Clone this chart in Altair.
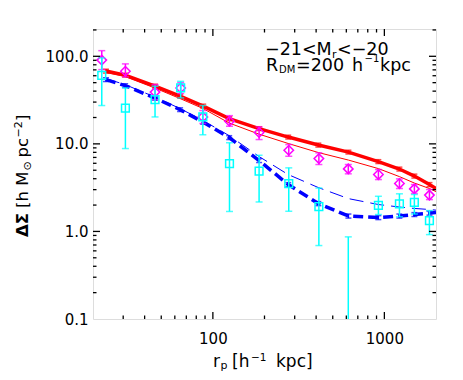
import altair as alt
import pandas as pd

# ---------------- data ----------------
# projected radius bins [h^-1 kpc]
r_bins = [22.5, 30.9, 46.0, 64.9, 87.4, 125, 186, 277, 415, 616, 923, 1224, 1496, 1831]

# magenta diamonds: Delta Sigma with lower / upper error
mag_val = [90.5, 67.4, 39.0, 43.4, 20.3, 18.1, 13.5, 8.45, 6.79, 5.18, 4.46, 3.52, 3.06, 2.60]
mag_lo = [70.5, 58.2, 32.0, 37.5, 17.1, 15.9, 11.2, 7.22, 5.81, 4.55, 3.91, 3.09, 2.71, 2.31]
mag_hi = [116, 81.9, 47.5, 50.1, 24.0, 21.0, 15.6, 9.82, 7.89, 5.81, 5.09, 3.98, 3.43, 3.01]

# cyan squares (the 10th point lies below the plotted range)
cyan_val = [60.7, 25.6, 32.0, 43.6, 20.3, 5.96, 4.87, 3.52, 1.92, 0.03, 1.99, 2.07, 2.15, 1.33]
cyan_lo = [27.4, 8.84, 20.3, 33.5, 12.7, 1.69, 2.17, 1.70, 0.69, 0.01, 1.56, 1.47, 1.58, 0.92]
cyan_hi = [95.9, 43.6, 45.5, 51.8, 27.4, 10.3, 7.41, 5.32, 3.13, 0.867, 2.52, 2.69, 2.64, 1.73]

# model curves
model_r = [23.8, 30.8, 46.0, 64.4, 87.8, 124.5, 186, 275, 412, 617, 922, 1223, 1496, 1832, 2000]
red_thick = [67.8, 61.0, 45.7, 35.1, 27.0, 19.4, 14.95, 11.96, 9.69, 8.06, 6.28, 5.16, 4.29, 3.43, 3.09]
red_thick_err = [3.4, 3.0, 2.3, 1.8, 1.4, 1.0, 0.75, 0.6, 0.5, 0.4, 0.32, 0.26, 0.22, 0.18, 0.16]
red_thin = [65.2, 58.7, 43.35, 32.9, 25.3, 17.3, 12.9, 10.1, 7.96, 6.53, 5.22, 4.23, 3.57, 3.09, 2.85]
blue_thick = [54.2, 46.3, 33.3, 24.6, 17.7, 11.8, 6.45, 3.43, 2.08, 1.50, 1.44, 1.50, 1.56, 1.62, 1.64]
blue_thick_err = [2.7, 2.3, 1.7, 1.2, 0.9, 0.6, 0.33, 0.18, 0.11, 0.08, 0.075, 0.08, 0.08, 0.085, 0.085]
blue_thin = [55.6, 47.5, 34.2, 25.3, 18.45, 12.4, 7.16, 4.46, 3.17, 2.37, 2.03, 1.90, 1.83, 1.78, 1.75]

# axis ticks / labels
x_label_vals = [100, 1000]
y_label_vals = [0.1, 1, 10, 100]
x_minor = [30, 40, 50, 60, 70, 80, 90, 200, 300, 400, 500, 600, 700, 800, 900]
y_major = [1, 10, 100]
y_minor = [0.2, 0.3, 0.4, 0.5, 0.6, 0.7, 0.8, 0.9, 2, 3, 4, 5, 6, 7, 8, 9,
           20, 30, 40, 50, 60, 70, 80, 90, 200]

# ---------------- chart ----------------
W, H = 343, 290
FONT = "DejaVu Sans"

xscale = alt.Scale(type="log", domain=[20, 2000], nice=False)
yscale = alt.Scale(type="log", domain=[0.1, 205], nice=False)
xaxis = alt.Axis(values=x_label_vals, format="d", title=None, ticks=False, tickSize=0,
                 domain=False, grid=False, labelFont=FONT, labelFontSize=15,
                 labelColor="black", labelPadding=12, labelFlush=False)
yaxis = alt.Axis(values=y_label_vals, format=".1f", title=None, ticks=False, tickSize=0,
                 domain=False, grid=False, labelFont=FONT, labelFontSize=15,
                 labelColor="black", labelPadding=5)


def X(f):
    return alt.X(f, type="quantitative", scale=xscale, axis=xaxis)


def Y(f):
    return alt.Y(f, type="quantitative", scale=yscale, axis=yaxis)


def Y2(f):
    return alt.Y2(f)


pts = pd.DataFrame({"r": r_bins, "mv": mag_val, "ml": mag_lo, "mh": mag_hi,
                    "cv": cyan_val, "cl": cyan_lo, "ch": cyan_hi})
mod = pd.DataFrame({"r": model_r, "rt": red_thick, "rte": red_thick_err, "rn": red_thin,
                    "bt": blue_thick, "bte": blue_thick_err, "bn": blue_thin})
mod_e = mod.iloc[:-1].copy()
mod_e["rt_lo"] = mod_e["rt"] - mod_e["rte"]
mod_e["rt_hi"] = mod_e["rt"] + mod_e["rte"]
mod_e["bt_lo"] = mod_e["bt"] - mod_e["bte"]
mod_e["bt_hi"] = mod_e["bt"] + mod_e["bte"]

RED, BLUE, MAG, CYAN = "#ff0000", "#0000ff", "#ff00ff", "#00ffff"

layers = []
mb = alt.Chart(mod)
layers.append(mb.mark_line(color=RED, strokeWidth=1, clip=True).encode(x=X("r"), y=Y("rn")))
layers.append(mb.mark_line(color=BLUE, strokeWidth=1, strokeDash=[14, 7], clip=True).encode(x=X("r"), y=Y("bn")))
layers.append(mb.mark_line(color=RED, strokeWidth=3.5, clip=True).encode(x=X("r"), y=Y("rt")))
layers.append(mb.mark_line(color=BLUE, strokeWidth=3.5, strokeDash=[10, 5], clip=True).encode(x=X("r"), y=Y("bt")))

me = alt.Chart(mod_e)
for c, lo, hi in [(RED, "rt_lo", "rt_hi"), (BLUE, "bt_lo", "bt_hi")]:
    layers.append(me.mark_rule(color=c, strokeWidth=1.5, clip=True).encode(x=X("r"), y=Y(lo), y2=Y2(hi)))
    for f in (lo, hi):
        layers.append(me.mark_tick(color=c, orient="horizontal", size=6, thickness=1.5, clip=True)
                      .encode(x=X("r"), y=Y(f)))

pb = alt.Chart(pts)
for c, v, lo, hi, shape, size in [(MAG, "mv", "ml", "mh", "diamond", 90),
                                  (CYAN, "cv", "cl", "ch", "square", 60)]:
    layers.append(pb.mark_rule(color=c, strokeWidth=1.5, clip=True).encode(x=X("r"), y=Y(lo), y2=Y2(hi)))
    for f in (lo, hi):
        layers.append(pb.mark_tick(color=c, orient="horizontal", size=7, thickness=1.5, clip=True)
                      .encode(x=X("r"), y=Y(f)))
    layers.append(pb.mark_point(shape=shape, size=size, color=c, filled=False, strokeWidth=1.5,
                                opacity=1, clip=True).encode(x=X("r"), y=Y(v)))

# inward ticks on all four sides
TK = dict(color="black", strokeWidth=1.3)
xmaj = alt.Chart(pd.DataFrame({"t": x_label_vals}))
xmin = alt.Chart(pd.DataFrame({"t": x_minor}))
ymaj = alt.Chart(pd.DataFrame({"t": y_major}))
ymin = alt.Chart(pd.DataFrame({"t": y_minor}))
for ch, L in [(xmaj, 7), (xmin, 3.5)]:
    layers.append(ch.mark_rule(**TK).encode(x=X("t"), y=alt.value(H), y2=alt.value(H - L)))
    layers.append(ch.mark_rule(**TK).encode(x=X("t"), y=alt.value(0), y2=alt.value(L)))
for ch, L in [(ymaj, 7), (ymin, 3.5)]:
    layers.append(ch.mark_rule(**TK).encode(y=Y("t"), x=alt.value(0), x2=alt.value(L)))
    layers.append(ch.mark_rule(**TK).encode(y=Y("t"), x=alt.value(W), x2=alt.value(W - L)))

# text pieces (annotation and axis titles with sub/superscripts)
one = alt.Chart(pd.DataFrame({"k": [0]}))


def txt(s, x, y, size, angle=0, weight="normal"):
    return one.mark_text(text=s, align="left", baseline="alphabetic", font=FONT,
                         fontSize=size, angle=angle, fontWeight=weight,
                         color="black").encode(x=alt.value(x), y=alt.value(y))


layers += [
    txt("\u221221<M", 172, 25.5, 17.5),
    txt("r", 239, 28.5, 11),
    txt("<\u221220", 244, 25.5, 17.5),
    txt("R", 173, 42, 17.5),
    txt("DM", 186, 44, 10),
    txt("=200", 203, 42, 17.5),
    txt("h", 259, 42, 17.5),
    txt("\u22121", 271.5, 32.5, 10),
    txt("kpc", 287, 42, 17.5),
    # x title
    txt("r", 120, 338, 17),
    txt("p", 127.5, 340, 11),
    txt("[h", 139, 338, 17),
    txt("\u22121", 158, 331.5, 10.5),
    txt("kpc]", 183, 338, 17),
    # y title (rotated)
    txt("\u0394\u03a3", -65, 208, 16.5, angle=270, weight="bold"),
    txt("[h M", -65, 179, 16.5, angle=270),
    txt("\u2299", -62, 141.5, 11, angle=270),
    txt("pc", -65, 128.5, 16.5, angle=270),
    txt("\u22122", -71, 108.5, 11, angle=270),
    txt("]", -65, 92, 16.5, angle=270),
]

chart = alt.layer(*layers).properties(
    width=W, height=H,
    autosize=alt.AutoSizeParams(type="none"),
    padding={"left": 85, "top": 21, "right": 19, "bottom": 53},
).configure_view(stroke="black", strokeWidth=2).configure(background="white")

chart.save("out.html", embed_options={"renderer": "svg", "actions": False})
